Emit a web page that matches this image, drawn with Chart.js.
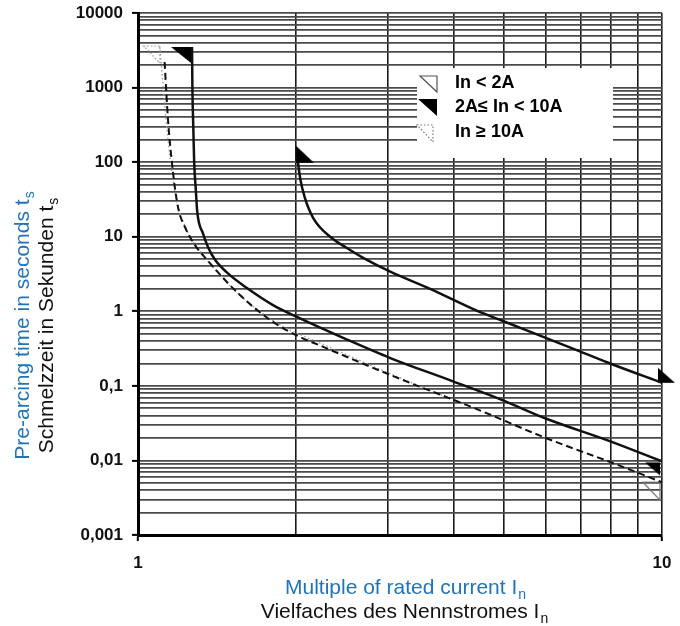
<!DOCTYPE html>
<html>
<head>
<meta charset="utf-8">
<script src="https://cdn.jsdelivr.net/npm/chart.js@4.4.1/dist/chart.umd.min.js"></script>
<style>
  html, body { margin: 0; padding: 0; background: #fff; }
  canvas { display: block; }
</style>
</head>
<body>
<canvas id="fuseChart" width="680" height="626"></canvas>
<script>
// axes
const xTicks = [1, 2, 3, 4, 5, 6, 7, 8, 9, 10];
const xDecades = [1, 10];
const xDecadeLabels = ['1', '10'];
const yDecades = [0.001, 0.01, 0.1, 1, 10, 100, 1000, 10000];
const yDecadeLabels = ['0,001', '0,01', '0,1', '1', '10', '100', '1000', '10000'];
const decadeSteps = [1, 2, 3, 4, 5, 6, 7, 8, 9];

// curves: [multiple of In, seconds]
const fastCurve = [[1.268, 3500], [1.27, 1000], [1.275, 300], [1.28, 100], [1.29, 40], [1.297, 22],
  [1.331, 11], [1.36, 7.3], [1.403, 4.9], [1.479, 3.3], [1.614, 2.05], [1.81, 1.21], [2.01, 0.84],
  [2.5, 0.42], [3.03, 0.236], [3.99, 0.115], [4.97, 0.064], [6.0, 0.0365], [7.97, 0.018], [10, 0.0097]];
const slowCurve = [[2.02, 98], [2.04, 60], [2.08, 34], [2.16, 17.8], [2.33, 9.9], [2.5, 7.1], [2.69, 5.2],
  [3.03, 3.4], [3.61, 2.0], [4.43, 1.02], [4.97, 0.74], [6.0, 0.44], [6.97, 0.29], [8.03, 0.195], [10, 0.11]];
const dashedCurve = [[1.124, 2200], [1.141, 370], [1.161, 97], [1.192, 25], [1.229, 13.5], [1.28, 8],
  [1.354, 4.9], [1.565, 1.65], [1.81, 0.72], [2.04, 0.45], [2.22, 0.35], [3.03, 0.14], [4.49, 0.047],
  [6.0, 0.02], [7.97, 0.0095], [10, 0.0051]];
const dottedCurve = [[1.10, 3600], [1.112, 1500], [1.13, 400], [1.15, 120], [1.18, 35], [1.235, 13],
  [1.34, 5.4], [1.55, 1.75], [1.84, 0.7], [2.3, 0.34], [3.0, 0.15], [3.8, 0.075]];

const legendLabels = ['In < 2A', '2A\u2264 In < 10A', 'In \u2265 10A'];
const blue = '#1f74bb';

const pts = arr => arr.map(p => ({ x: p[0], y: p[1] }));
const isDecade = (v, list) => list.some(d => Math.abs(v - d) / d < 1e-6);

// right-angled triangle markers; shape 'A' = corner top-right, 'B' = corner bottom-left
function makeTri(w, h, shape, mode, dx, dy) {
  const c = document.createElement('canvas');
  const m = 6;
  c.width = 2 * (w + m + Math.abs(dx || 0));
  c.height = 2 * (h + m + Math.abs(dy || 0));
  const g = c.getContext('2d');
  const cx = c.width / 2 + (dx || 0), cy = c.height / 2 + (dy || 0);
  g.beginPath();
  if (shape === 'A') { g.moveTo(cx - w, cy); g.lineTo(cx, cy); g.lineTo(cx, cy + h); }
  else { g.moveTo(cx, cy - h); g.lineTo(cx, cy); g.lineTo(cx + w, cy); }
  g.closePath();
  if (mode === 'fill') { g.fillStyle = '#000'; g.fill(); }
  else if (mode === 'hollow') { g.strokeStyle = '#777'; g.lineWidth = 1.2; g.stroke(); }
  else { g.setLineDash([1.5, 2]); g.strokeStyle = '#888'; g.lineWidth = 1.2; g.stroke(); }
  return c;
}

function marker(point, style) {
  return { data: [{ x: point[0], y: point[1] }], showLine: false, pointStyle: style,
    pointRadius: 8, pointHoverRadius: 8, clip: false };
}

function drawSub(ctx, main, sub, x, y, color) {
  ctx.fillStyle = color;
  ctx.font = '21px "Liberation Sans", Arial, sans-serif';
  const w1 = ctx.measureText(main).width;
  ctx.font = '14px "Liberation Sans", Arial, sans-serif';
  const w2 = ctx.measureText(sub).width;
  const start = x - (w1 + w2) / 2;
  ctx.font = '21px "Liberation Sans", Arial, sans-serif';
  ctx.fillText(main, start, y);
  ctx.font = '14px "Liberation Sans", Arial, sans-serif';
  ctx.fillText(sub, start + w1 + 1, y + 5);
}

const boxPlugin = {
  id: 'legendBox',
  beforeDatasetsDraw(chart) {
    const ctx = chart.ctx;
    ctx.save();
    ctx.fillStyle = '#fff';
    ctx.fillRect(417, 68, 196, 90);
    ctx.restore();
  },
  afterDraw(chart) {
    const ctx = chart.ctx;
    ctx.save();
    ctx.textBaseline = 'middle';
    ctx.textAlign = 'left';
    ctx.font = 'bold 18px "Liberation Sans", Arial, sans-serif';
    ctx.fillStyle = '#000';
    const ys = [83, 107, 132];
    legendLabels.forEach((t, i) => ctx.fillText(t, 455, ys[i]));
    // legend triangles
    ctx.beginPath();
    ctx.moveTo(420, 76); ctx.lineTo(437, 76); ctx.lineTo(437, 92); ctx.closePath();
    ctx.strokeStyle = '#555'; ctx.lineWidth = 1.2; ctx.stroke();
    ctx.beginPath();
    ctx.moveTo(418, 99); ctx.lineTo(437, 99); ctx.lineTo(437, 116); ctx.closePath();
    ctx.fillStyle = '#000'; ctx.fill();
    ctx.beginPath();
    ctx.moveTo(417, 125); ctx.lineTo(433, 125); ctx.lineTo(433, 142); ctx.closePath();
    ctx.setLineDash([1.5, 2]); ctx.strokeStyle = '#777'; ctx.stroke();
    ctx.setLineDash([]);

    // axis titles
    ctx.textBaseline = 'alphabetic';
    ctx.textAlign = 'left';
    drawSub(ctx, 'Multiple of rated current I', 'n', 405, 594, blue);
    drawSub(ctx, 'Vielfaches des Nennstromes I', 'n', 404, 618, '#111');
    ctx.save();
    ctx.translate(29, 326); ctx.rotate(-Math.PI / 2);
    drawSub(ctx, 'Pre-arcing time in seconds t', 's', 0, 0, blue);
    ctx.restore();
    ctx.save();
    ctx.translate(53, 326); ctx.rotate(-Math.PI / 2);
    drawSub(ctx, 'Schmelzzeit in Sekunden t', 's', 0, 0, '#111');
    ctx.restore();
    ctx.restore();
  }
};

const tickFont = { family: '"Liberation Sans", Arial, sans-serif', size: 17, weight: 'bold' };

new Chart(document.getElementById('fuseChart').getContext('2d'), {
  type: 'scatter',
  data: {
    datasets: [
      { data: pts(fastCurve), showLine: true, borderColor: '#111', borderWidth: 2.5, pointRadius: 0, cubicInterpolationMode: 'monotone' },
      { data: pts(slowCurve), showLine: true, borderColor: '#111', borderWidth: 2.5, pointRadius: 0, cubicInterpolationMode: 'monotone' },
      { data: pts(dashedCurve), showLine: true, borderColor: '#111', borderWidth: 2, borderDash: [7, 4], pointRadius: 0, cubicInterpolationMode: 'monotone' },
      { data: pts(dottedCurve), showLine: true, borderColor: '#999', borderWidth: 1.3, borderDash: [1.5, 2.5], pointRadius: 0, cubicInterpolationMode: 'monotone' },
      marker(fastCurve[0], makeTri(20, 16, 'A', 'fill', -1, 0)),
      marker(fastCurve[fastCurve.length - 1], makeTri(15, 13, 'A', 'fill', -2, 1)),
      marker(slowCurve[0], makeTri(18, 17, 'B', 'fill', -2, 0)),
      marker(slowCurve[slowCurve.length - 1], makeTri(17, 15, 'B', 'fill', -4, 0)),
      marker(dashedCurve[dashedCurve.length - 1], makeTri(17, 18, 'A', 'hollow', -2, 0)),
      marker(dottedCurve[0], makeTri(16, 17, 'A', 'dotted', 0, 0))
    ]
  },
  options: {
    responsive: false,
    animation: false,
    devicePixelRatio: 1,
    layout: { padding: { left: 0, right: 18, top: 13, bottom: 0 } },
    plugins: { legend: { display: false }, tooltip: { enabled: false } },
    scales: {
      x: {
        type: 'logarithmic', min: 1, max: 10,
        afterBuildTicks: s => { s.ticks = xTicks.map(v => ({ value: v })); },
        afterFit: s => { s.height = 91; s.paddingLeft = 0; s.paddingRight = 0; },
        ticks: {
          autoSkip: false, maxRotation: 0, padding: 12, color: '#111', font: tickFont,
          callback: v => { const i = xDecades.findIndex(d => Math.abs(v - d) / d < 1e-6); return i >= 0 ? xDecadeLabels[i] : ''; }
        },
        grid: {
          color: '#1a1a1a', lineWidth: 1.6, tickLength: 6, tickWidth: 2,
          tickColor: c => (c.tick && isDecade(c.tick.value, xDecades)) ? '#000' : 'rgba(0,0,0,0)'
        },
        border: { color: '#000', width: 3 }
      },
      y: {
        type: 'logarithmic', min: 0.001, max: 10000,
        afterBuildTicks: s => {
          const vals = [];
          yDecades.slice(0, -1).forEach(d => decadeSteps.forEach(k => vals.push(+(d * k).toPrecision(6))));
          vals.push(yDecades[yDecades.length - 1]);
          s.ticks = vals.map(v => ({ value: v }));
        },
        afterFit: s => { s.width = 138; s.paddingTop = 0; s.paddingBottom = 0; },
        ticks: {
          autoSkip: false, padding: 9, color: '#111', font: tickFont,
          callback: v => { const i = yDecades.findIndex(d => Math.abs(v - d) / d < 1e-6); return i >= 0 ? yDecadeLabels[i] : ''; }
        },
        grid: {
          color: '#4a4a4a', lineWidth: 1.8, tickLength: 6, tickWidth: 2,
          tickColor: c => (c.tick && isDecade(c.tick.value, yDecades)) ? '#000' : 'rgba(0,0,0,0)'
        },
        border: { color: '#000', width: 3 }
      }
    }
  },
  plugins: [boxPlugin]
});
</script>
</body>
</html>
